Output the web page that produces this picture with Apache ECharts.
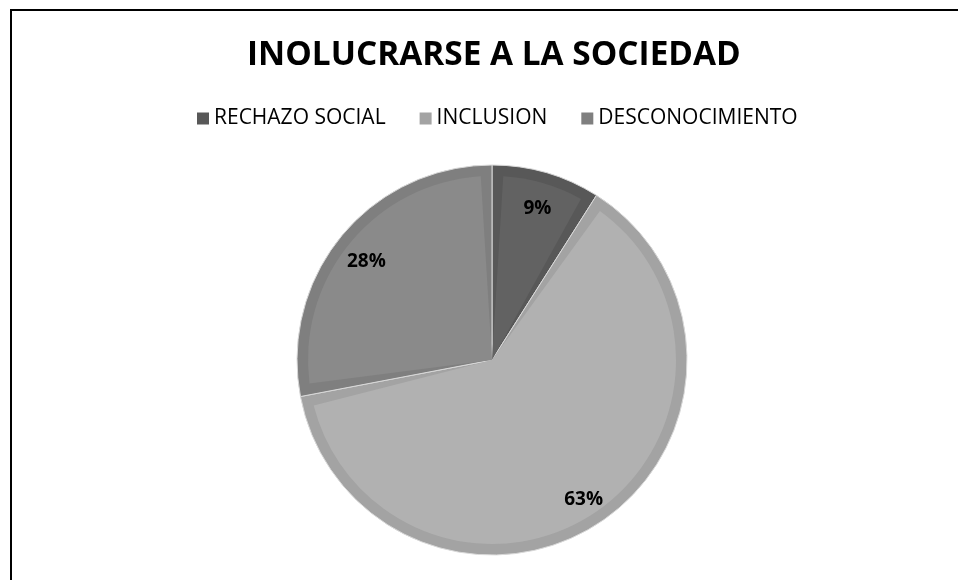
<!DOCTYPE html>
<html>
<head>
<meta charset="utf-8">
<script src="https://cdn.jsdelivr.net/npm/echarts@6/dist/echarts.min.js"></script>
<style>
  html, body { margin: 0; padding: 0; background: #fff; overflow: hidden; }
  .frame {
    position: absolute; left: 10px; top: 9px;
    width: 2000px; height: 2000px;
    border: 2px solid #000;
  }
  #main { position: absolute; left: 0; top: 0; width: 958px; height: 580px; }
</style>
</head>
<body>
<div class="frame"></div>
<div id="main"></div>
<script>
// datos del grafico
var categorias = ['RECHAZO SOCIAL', 'INCLUSION', 'DESCONOCIMIENTO'];
var porcentajes = [9, 63, 28];
var coloresBorde = ['#585858', '#a3a3a3', '#7f7f7f'];
var coloresRelleno = ['#626262', '#b1b1b1', '#8a8a8a'];

var fuente = '"Open Sans", "DejaVu Sans", sans-serif';

function datos(colores) {
  return categorias.map(function (c, i) {
    return { name: c, value: porcentajes[i], itemStyle: { color: colores ? colores[i] : 'transparent' } };
  });
}

var option = {
  title: {
    text: 'INOLUCRARSE A LA SOCIEDAD',
    left: 242,
    top: 34,
    textStyle: { fontFamily: fuente, fontWeight: 'bold', fontSize: 33.4, color: '#000' }
  },
  legend: {
    data: categorias,
    left: 192,
    top: 103,
    icon: 'rect',
    itemWidth: 12,
    itemHeight: 12,
    itemGap: 34,
    itemStyle: { borderWidth: 0 },
    textStyle: { fontFamily: fuente, fontSize: 21, color: '#000' }
  },
  series: [
    {
      type: 'pie',
      center: [492, 360],
      radius: [0, 195],
      silent: true,
      label: { show: false },
      itemStyle: { borderColor: '#d8d8d8', borderWidth: 1 },
      data: datos(coloresBorde)
    },
    {
      type: 'pie',
      center: [492, 360],
      radius: [0, 184],
      padAngle: 7,
      silent: true,
      label: { show: false },
      data: datos(coloresRelleno)
    },
    {
      // solo para colocar las etiquetas
      type: 'pie',
      center: [492, 360],
      radius: [0, 320],
      silent: true,
      label: {
        show: true,
        position: 'inside',
        formatter: '{d}%',
        offset: [0, 5],
        fontFamily: fuente,
        fontWeight: 'bold',
        fontSize: 19,
        color: '#000'
      },
      data: datos(null)
    }
  ]
};

echarts.init(document.getElementById('main')).setOption(option);
</script>
</body>
</html>
